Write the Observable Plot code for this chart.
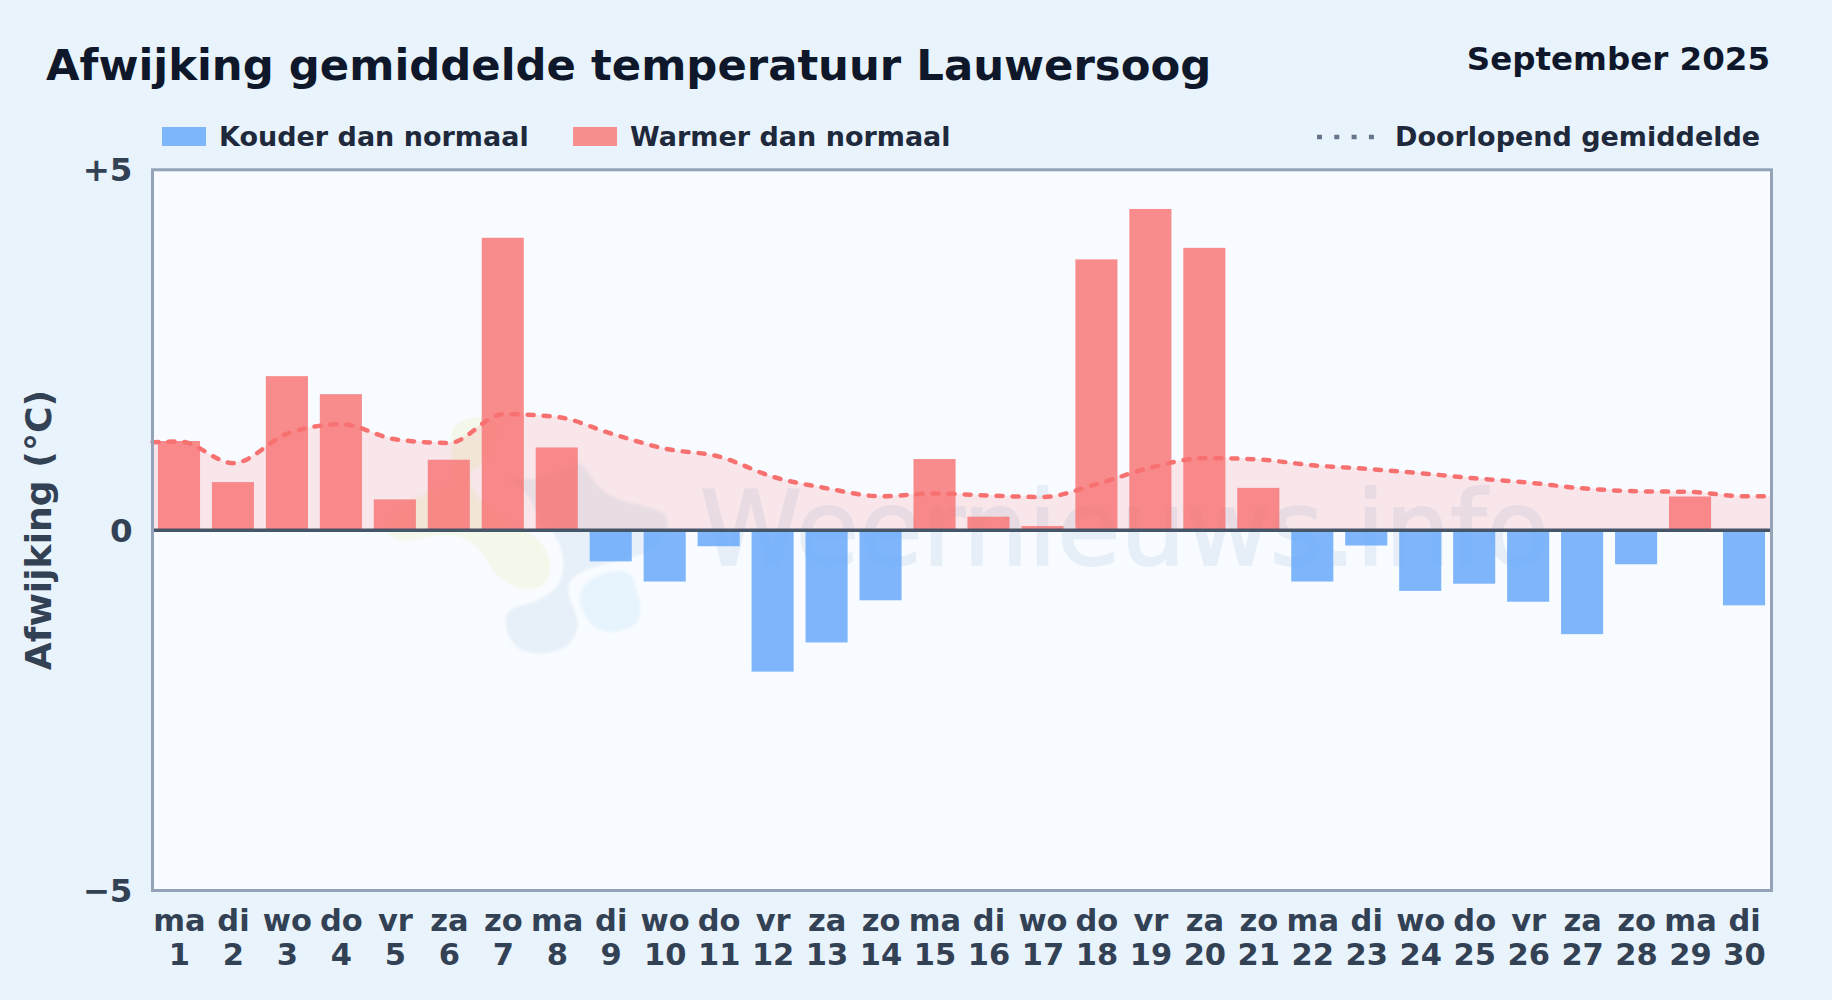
<!DOCTYPE html>
<html lang="nl">
<head>
<meta charset="utf-8">
<title>Afwijking gemiddelde temperatuur Lauwersoog</title>
<script src="https://cdn.jsdelivr.net/npm/d3@7"></script>
<script src="https://cdn.jsdelivr.net/npm/@observablehq/plot@0.6"></script>
<style>
html,body{margin:0;padding:0;width:1832px;height:1000px;overflow:hidden;background:#e8f3fc;font-family:"DejaVu Sans",sans-serif;font-weight:700}
.t{position:absolute;line-height:1;white-space:nowrap}
#title{left:46px;top:43.5px;font-size:43.35px;color:#0f172a}
#month{right:62px;top:43px;font-size:32.5px;color:#0f172a}
.leg{top:123px;font-size:27px;color:#1e293b}
.sw{position:absolute;top:127px;height:19px;width:44px}
#wm{position:absolute;left:0;top:0}
#chart{position:absolute;left:0;top:140px}
#chart svg{background:transparent;display:block}
</style>
</head>
<body>
<svg id="wm" width="1832" height="1000">
  <defs><filter id="b" x="-10%" y="-10%" width="120%" height="120%"><feGaussianBlur stdDeviation="1.2"/></filter></defs>
  <rect x="152" y="169" width="1619" height="721" fill="#f8fbff"/>
  <g filter="url(#b)" stroke="#f8fbff" stroke-width="7" stroke-linejoin="round">
    <path fill="#f3f8ea" d="M448,434 C450,416 478,410 494,416 C508,424 498,462 474,474 C470,490 492,510 526,528 C552,540 560,565 548,585 C534,598 508,594 490,572 C476,545 462,534 430,540 C405,548 385,545 382,528 C382,508 420,490 448,482 Z"/>
    <path fill="#e7f0f8" d="M474,478 C505,472 532,495 535,524 C556,532 566,560 556,582 C544,598 522,602 514,604 C496,610 500,640 518,652 C545,663 578,655 581,625 C582,608 566,596 574,582 C590,566 625,566 650,555 C668,545 676,525 668,512 C650,498 620,505 600,482 C590,470 585,458 576,460 C560,465 540,480 530,475 Z"/>
    <path fill="#e7f4fd" d="M576,597 C578,580 596,570 613,568 C632,566 638,575 638,585 C645,600 648,615 637,628 C620,638 600,638 590,628 C580,617 576,606 576,597 Z"/>
  </g>
  <text x="700" y="565" font-family="DejaVu Sans" font-weight="400" font-size="103" fill="#e6eef8" stroke="#e6eef8" stroke-width="2">Weernieuws.info</text>
</svg>

<div class="t" id="title">Afwijking gemiddelde temperatuur Lauwersoog</div>
<div class="t" id="month">September 2025</div>
<div class="sw" style="left:162px;background:#7eb6fb"></div>
<div class="t leg" style="left:219px">Kouder dan normaal</div>
<div class="sw" style="left:573px;background:#f88f8f"></div>
<div class="t leg" style="left:630px">Warmer dan normaal</div>
<svg style="position:absolute;left:1310px;top:130px" width="70" height="14"><line x1="7" y1="7" x2="66" y2="7" stroke="#64748b" stroke-width="4.5" stroke-dasharray="5 12.3"/></svg>
<div class="t leg" style="left:1395px">Doorlopend gemiddelde</div>

<div id="chart"></div>

<script>
const weekdays = ["ma","di","wo","do","vr","za","zo","ma","di","wo","do","vr","za","zo","ma","di","wo","do","vr","za","zo","ma","di","wo","do","vr","za","zo","ma","di"];
const days = d3.range(1, 31);
const anomalies = [1.23,0.66,2.13,1.88,0.42,0.97,4.05,1.14,-0.44,-0.72,-0.23,-1.97,-1.565,-0.98,0.98,0.18,0.05,3.75,4.45,3.91,0.58,-0.72,-0.22,-0.85,-0.75,-1.0,-1.45,-0.48,0.46,-1.05];
const rollingDays = [0.5,...days,30.5];
const rollingMean = [1.22,1.23,0.93,1.34,1.47,1.26,1.21,1.61,1.57,1.34,1.13,1.02,0.74,0.58,0.47,0.51,0.48,0.46,0.64,0.87,1.0,0.98,0.90,0.85,0.79,0.72,0.66,0.58,0.54,0.53,0.47,0.47];
const yTicks = [-5,0,5];
const yTickLabels = ["−5","0","+5"];

const bars = days.map((d,i)=>({day:d,value:anomalies[i]}));
const rolling = rollingDays.map((d,i)=>({day:d,value:rollingMean[i]}));

const plot = Plot.plot({
  width:1832, height:860,
  marginLeft:152, marginRight:61, marginTop:29.3, marginBottom:110,
  style:{fontFamily:"DejaVu Sans",fontWeight:700,background:"transparent",overflow:"visible"},
  x:{domain:[0.5,30.5]},
  y:{domain:[-5,5]},
  marks:[
    Plot.areaY(rolling,{x:"day",y1:0,y2:"value",curve:"monotone-x",fill:"#f87171",fillOpacity:0.15}),
    Plot.rect(bars,{x1:d=>d.day-0.39,x2:d=>d.day+0.39,y1:0,y2:"value",fill:d=>d.value<0?"#60a5fa":"#f87171",fillOpacity:0.8}),
    Plot.lineY(rolling,{x:"day",y:"value",curve:"monotone-x",stroke:"#f87171",strokeWidth:4.5,strokeDasharray:"6 10",strokeLinecap:"round"}),
    Plot.ruleY([0],{stroke:"#475569",strokeWidth:3.5}),
    Plot.frame({stroke:"#94a3b8",strokeWidth:3}),
    Plot.axisX({ticks:days,tickSize:0,tickPadding:16,fontSize:30.5,lineHeight:1.115,fill:"#334155",label:null,
      tickFormat:d=>`${weekdays[d-1]}\n${d}`}),
    Plot.axisY({ticks:yTicks,tickSize:0,tickPadding:20,fontSize:32.5,dy:1,fill:"#334155",label:null,
      tickFormat:d=>yTickLabels[yTicks.indexOf(d)]}),
    Plot.text(["Afwijking (°C)"],{frameAnchor:"left",textAnchor:"middle",rotate:-90,dx:-113.5,fontSize:36.2,fill:"#334155",fontWeight:700})
  ]
});
document.getElementById("chart").append(plot);
</script>
</body>
</html>
